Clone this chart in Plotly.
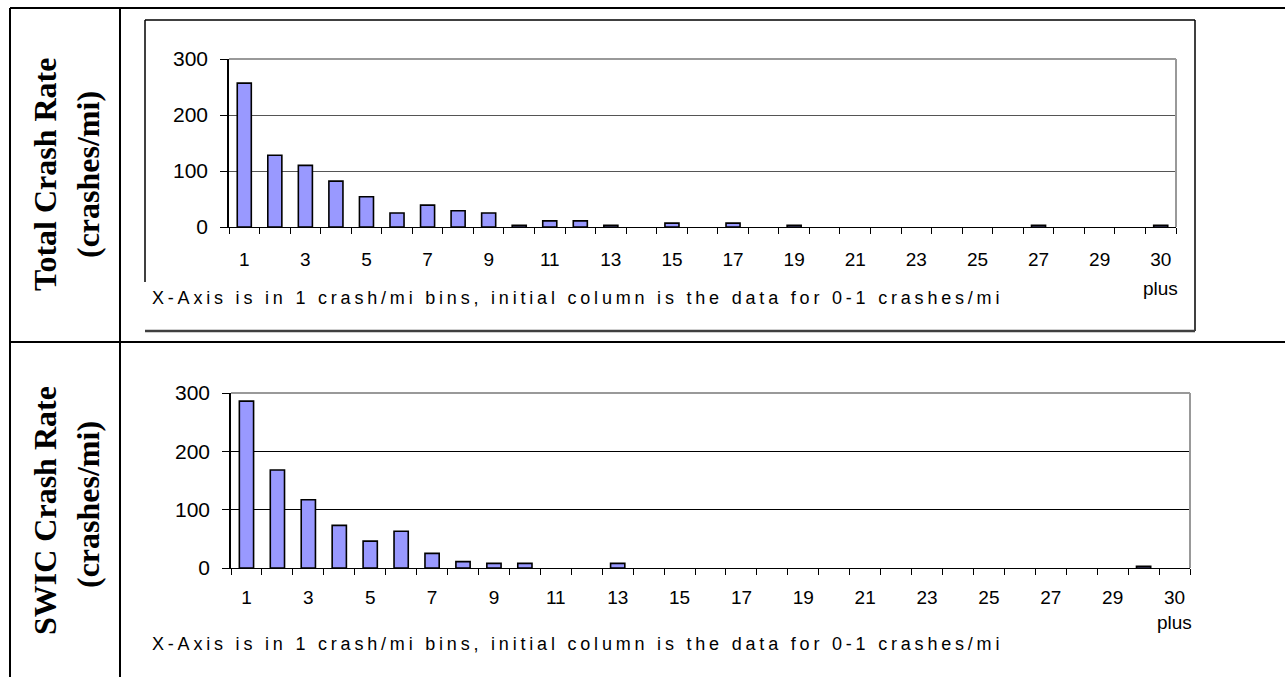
import plotly.graph_objects as go

W, H = 1285, 677

# ---- data ----
bins = list(range(1, 32))  # 31 bins: 1..30 and "30 plus"
tick_positions = list(range(1, 30, 2)) + [31]
tick_labels = [str(v) for v in range(1, 30, 2)] + ["30"]
last_label_suffix = "plus"

total_rate = [257, 128, 110, 82, 54, 25, 39, 29, 25, 3, 11, 11, 3, 0, 7, 0,
              7, 0, 3, 0, 0, 0, 0, 0, 0, 0, 3, 0, 0, 0, 3]
swic_rate = [286, 168, 117, 73, 46, 63, 25, 11, 8, 8, 0, 0, 8, 0, 0, 0,
             0, 0, 0, 0, 0, 0, 0, 0, 0, 0, 0, 0, 0, 3, 0]

y_ticks = [0, 100, 200, 300]
row_titles = [("Total Crash Rate", "(crashes/mi)"), ("SWIC Crash Rate", "(crashes/mi)")]
note = "X-Axis is in 1 crash/mi bins, initial column is the data for 0-1 crashes/mi"


def px(x):
    return x / W


def py(y):
    return 1 - y / H


fig = go.Figure()

for vals, xa, ya in [(total_rate, "x", "y"), (swic_rate, "x2", "y2")]:
    fig.add_trace(go.Bar(
        x=bins,
        y=[v if v > 0 else None for v in vals],
        xaxis=xa, yaxis=ya,
        width=0.46,
        marker=dict(color="#9999FF", line=dict(color="black", width=1.6)),
        showlegend=False,
        hoverinfo="x+y",
    ))

axis_font = dict(family="Liberation Sans, Arial, sans-serif", size=19, color="black")


def xaxis_cfg(domain, anchor, standoff):
    return dict(
        domain=domain, anchor=anchor, range=[0.5, 31.5],
        tickmode="array", tickvals=tick_positions, ticktext=tick_labels,
        ticks="", showgrid=False, zeroline=False,
        showline=True, linecolor="black", linewidth=1.2,
        tickfont=axis_font, ticklabelstandoff=standoff,
        minor=dict(tickmode="array", tickvals=[b - 0.5 for b in bins] + [31.5],
                   ticks="outside", ticklen=6, tickcolor="black", tickwidth=1,
                   showgrid=False),
        automargin=False,
        fixedrange=True,
    )


def yaxis_cfg(domain, anchor, gridcolor):
    return dict(
        domain=domain, anchor=anchor, range=[0, 300],
        tickmode="array", tickvals=y_ticks,
        ticks="outside", ticklen=7, tickcolor="black", tickwidth=1,
        showgrid=True, gridcolor=gridcolor, gridwidth=1,
        zeroline=False, showline=True, linecolor="black", linewidth=1.5,
        tickfont=dict(family="Liberation Sans, Arial, sans-serif", size=21, color="black"),
        ticklabelstandoff=8,
        automargin=False,
        fixedrange=True,
    )


fig.update_layout(
    template="none",
    width=W, height=H,
    margin=dict(l=0, r=0, t=0, b=0, pad=0),
    paper_bgcolor="white", plot_bgcolor="white",
    bargap=0.5,
    xaxis=xaxis_cfg([px(229), px(1176)], "y", 15),
    yaxis=yaxis_cfg([py(227), py(59)], "x", "#555555"),
    xaxis2=xaxis_cfg([px(231), px(1190)], "y2", 12),
    yaxis2=yaxis_cfg([py(568), py(393)], "x2", "black"),
)

shapes = []


def line(x0, y0, x1, y1, color="black", width=2):
    shapes.append(dict(type="line", xref="paper", yref="paper",
                       x0=px(x0), y0=py(y0), x1=px(x1), y1=py(y1),
                       line=dict(color=color, width=width)))


# table grid
line(10, 8, 1285, 8)
line(10, 8, 10, 677)
line(120, 8, 120, 677)
line(10, 342, 1285, 342)

# chart object box (top chart)
line(145, 20, 1195, 20, width=1.5)
line(1195, 20, 1195, 331, width=1.5)
line(145, 331, 1195, 331, color="#404040", width=2.5)
line(145, 20, 145, 282, width=1.5)

# plot-area gray borders (top and right)
for xr, yr in [("x domain", "y domain"), ("x2 domain", "y2 domain")]:
    shapes.append(dict(type="line", xref=xr, yref=yr, x0=0, y0=1, x1=1, y1=1,
                       line=dict(color="#999999", width=2)))
    shapes.append(dict(type="line", xref=xr, yref=yr, x0=1, y0=0, x1=1, y1=1,
                       line=dict(color="#999999", width=2)))

fig.update_layout(shapes=shapes)

ann = []
serif = dict(family="Liberation Serif, Times New Roman, serif", size=32, color="black")
for (t1, t2), yc1, yc2 in [(row_titles[0], 175, 175), (row_titles[1], 511, 505)]:
    ann.append(dict(text="<b>%s</b>" % t1, xref="paper", yref="paper",
                    x=px(45), y=py(yc1), xanchor="center", yanchor="middle",
                    textangle=-90, showarrow=False, font=serif))
    ann.append(dict(text="<b>%s</b>" % t2, xref="paper", yref="paper",
                    x=px(88), y=py(yc2), xanchor="center", yanchor="middle",
                    textangle=-90, showarrow=False, font=serif))

# second line of the last category label ("30 plus")
for xa, yc in [("x", 288), ("x2", 622)]:
    ann.append(dict(text=last_label_suffix, xref=xa, yref="paper",
                    x=tick_positions[-1], y=py(yc), xanchor="center", yanchor="middle",
                    showarrow=False, font=axis_font))

note_font = dict(family="Liberation Sans, Arial, sans-serif", size=18, color="black")
for yc in [298, 644]:
    ann.append(dict(text='<span style="letter-spacing:3.8px">%s</span>' % note,
                    xref="paper", yref="paper", x=px(150), y=py(yc),
                    xanchor="left", yanchor="middle", showarrow=False, font=note_font))

fig.update_layout(annotations=ann)

fig.write_html("out.html", config={"displayModeBar": False},
               post_script="document.body.style.margin='0';")
